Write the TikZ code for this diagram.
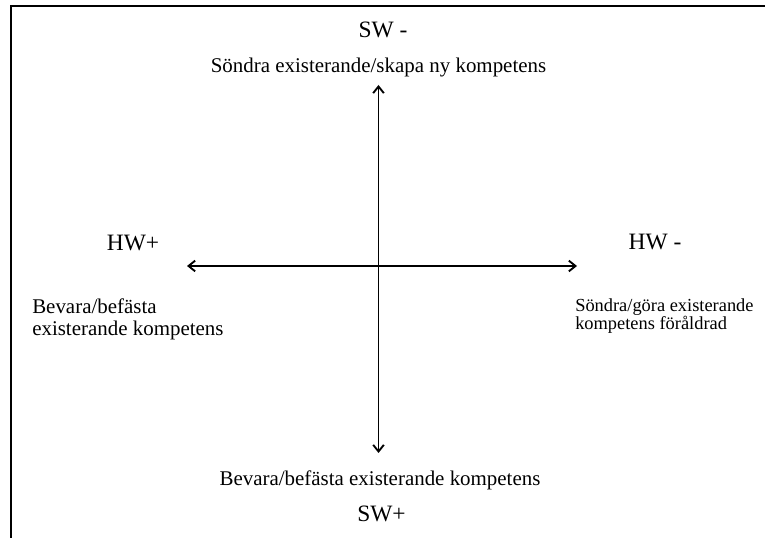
\documentclass[tikz,border=0pt]{standalone}
\usepackage{fontspec}
\setmainfont{Liberation Serif}
\usetikzlibrary{arrows.meta}
\begin{document}
\begin{tikzpicture}[x=0.75pt,y=-0.75pt,
  axis/.style={line width=1.4pt,{Straight Barb[length=5pt,width=8pt]}-{Straight Barb[length=5pt,width=8pt]}},
  frame/.style={line width=1.5pt},
  pole/.style={inner sep=0pt,font=\fontsize{17.6}{20}\selectfont},
  goal/.style={inner sep=0pt,font=\fontsize{15.7}{16.5}\selectfont},
  note/.style={inner sep=0pt,font=\fontsize{13.8}{13.5}\selectfont}]
\useasboundingbox (0,0) rectangle (765,538);
% frame edges
\coordinate (fbl) at (10.5,538);
\coordinate (ftl) at (10.5,6.5);
\coordinate (ftr) at (765,6.5);
\draw[frame] (fbl) -- (ftl) -- (ftr);
% axis end points
\coordinate (top) at (378.5,85);
\coordinate (bottom) at (378.5,453);
\coordinate (left) at (187,266);
\coordinate (right) at (577,266);
\draw[axis] (bottom) -- (top);
\draw[axis] (left) -- (right);
% pole labels (multi-line nodes are placed by the baseline of their last line)
\node[pole,anchor=base] (swminus) at (383,38) {SW -};
\node[goal,anchor=base] (swmgoal) at (378.5,73) {Söndra existerande/skapa ny kompetens};
\node[pole,anchor=base] (hwplus) at (133,251) {HW+};
\node[goal,anchor=base west,align=left] (hwpgoal) at (32,336) {Bevara/befästa\\existerande kompetens};
\node[pole,anchor=base] (hwminus) at (655,250) {HW -};
\node[note,anchor=base west,align=left] (hwmgoal) at (575,330) {Söndra/göra existerande\\kompetens föråldrad};
\node[goal,anchor=base] (swpgoal) at (380,486) {Bevara/befästa existerande kompetens};
\node[pole,anchor=base] (swplus) at (381.5,522) {SW+};
\end{tikzpicture}
\end{document}
